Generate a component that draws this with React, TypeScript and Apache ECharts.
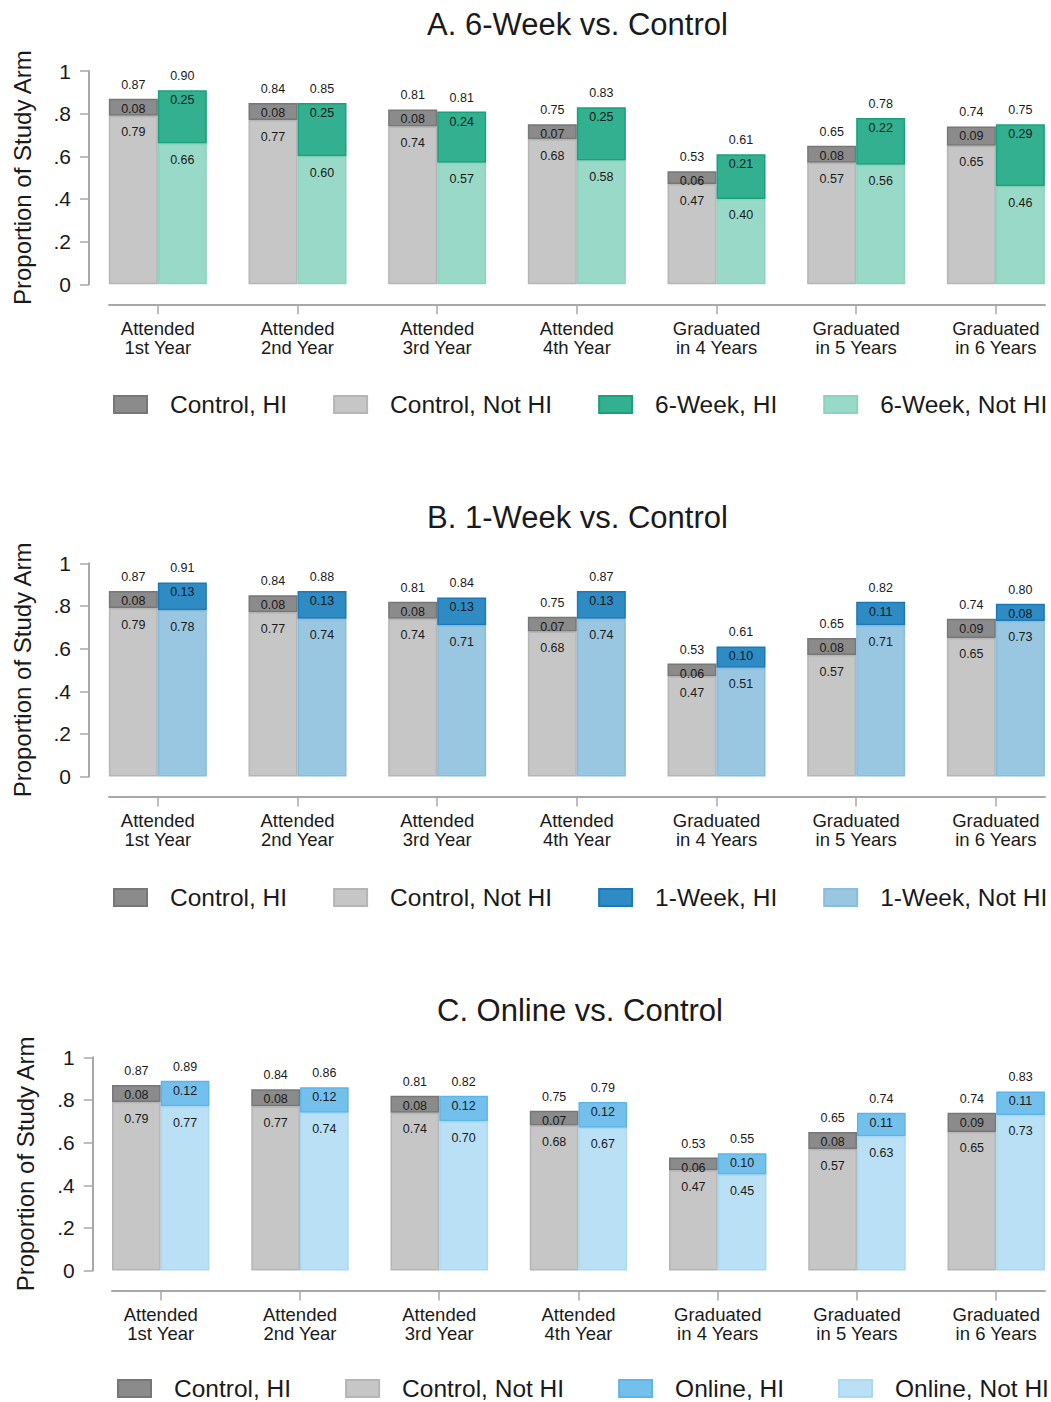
import React, { useEffect, useRef } from "react";
import * as echarts from "echarts";

const categories = [
  "Attended\n1st Year",
  "Attended\n2nd Year",
  "Attended\n3rd Year",
  "Attended\n4th Year",
  "Graduated\nin 4 Years",
  "Graduated\nin 5 Years",
  "Graduated\nin 6 Years",
];

const controlTotal = [0.87, 0.84, 0.81, 0.75, 0.53, 0.65, 0.74];
const controlHI = [0.08, 0.08, 0.08, 0.07, 0.06, 0.08, 0.09];
const controlNotHI = [0.79, 0.77, 0.74, 0.68, 0.47, 0.57, 0.65];

const sixWeekTotal = [0.9, 0.85, 0.81, 0.83, 0.61, 0.78, 0.75];
const sixWeekHI = [0.25, 0.25, 0.24, 0.25, 0.21, 0.22, 0.29];
const sixWeekNotHI = [0.66, 0.6, 0.57, 0.58, 0.4, 0.56, 0.46];

const oneWeekTotal = [0.91, 0.88, 0.84, 0.87, 0.61, 0.82, 0.8];
const oneWeekHI = [0.13, 0.13, 0.13, 0.13, 0.1, 0.11, 0.08];
const oneWeekNotHI = [0.78, 0.74, 0.71, 0.74, 0.51, 0.71, 0.73];

const onlineTotal = [0.89, 0.86, 0.82, 0.79, 0.55, 0.74, 0.83];
const onlineHI = [0.12, 0.12, 0.12, 0.12, 0.1, 0.11, 0.11];
const onlineNotHI = [0.77, 0.74, 0.7, 0.67, 0.45, 0.63, 0.73];

const yMin = 0;
const yMax = 1;
const yStep = 0.2;

const panels = [
  {
    title: "A. 6-Week vs. Control",
    arm: "6-Week",
    total: sixWeekTotal,
    hi: sixWeekHI,
    notHI: sixWeekNotHI,
    hiColor: "#33b08f",
    hiBorder: "#17a27b",
    notColor: "#99d9c7",
    notBorder: "#8bd3bf",
  },
  {
    title: "B. 1-Week vs. Control",
    arm: "1-Week",
    total: oneWeekTotal,
    hi: oneWeekHI,
    notHI: oneWeekNotHI,
    hiColor: "#2e8bc4",
    hiBorder: "#1c79b7",
    notColor: "#99c6e1",
    notBorder: "#88bde0",
  },
  {
    title: "C. Online vs. Control",
    arm: "Online",
    total: onlineTotal,
    hi: onlineHI,
    notHI: onlineNotHI,
    hiColor: "#74c0ec",
    hiBorder: "#5cb5e8",
    notColor: "#b9e0f5",
    notBorder: "#a9d9f3",
  },
];

const layouts = [
  { titleLeft: 427, titleTop: 9, gridTop: 71, gridLeft: 88, band: 139.67, barW: 49, lineLeft: 109, lineRight: 1045, legendLeft: 113, legendTop: 392, itemGap: 46, yOffset: -1 },
  { titleLeft: 427, titleTop: 502, gridTop: 563.3, gridLeft: 88, band: 139.67, barW: 49, lineLeft: 109, lineRight: 1045, legendLeft: 113, legendTop: 885, itemGap: 46, yOffset: -1 },
  { titleLeft: 437, titleTop: 995, gridTop: 1057.3, gridLeft: 91.1, band: 139.25, barW: 48.7, lineLeft: 112, lineRight: 1045, legendLeft: 117, legendTop: 1376, itemGap: 54, yOffset: -1.6 },
];

const FONT = "'Liberation Sans', Arial, Helvetica, sans-serif";
const PLOT_H = 213.3;
const AXIS_GRAY = "#a8a8a8";
const TXT = "#1a1a1a";

const fmt = (v: number) => v.toFixed(2);

function buildOption() {
  const grid: any[] = [];
  const xAxis: any[] = [];
  const yAxis: any[] = [];
  const series: any[] = [];
  const title: any[] = [];
  const legend: any[] = [];

  panels.forEach((p, i) => {
    const L = layouts[i];
    title.push({
      text: p.title,
      left: L.titleLeft,
      top: L.titleTop,
      padding: 0,
      textStyle: { fontFamily: FONT, fontSize: 31, fontWeight: "normal", color: TXT },
    });

    grid.push({
      left: L.gridLeft,
      top: L.gridTop,
      width: L.band * categories.length,
      height: PLOT_H,
      containLabel: false,
      outerBoundsMode: "none",
    });
    grid.push({
      left: L.lineLeft,
      top: L.gridTop,
      width: L.lineRight - L.lineLeft,
      height: PLOT_H,
      containLabel: false,
      outerBoundsMode: "none",
    });

    xAxis.push({
      type: "category",
      gridIndex: 2 * i,
      data: categories,
      position: "bottom",
      offset: 20,
      axisLine: { show: false, onZero: false },
      axisTick: { show: true, alignWithLabel: true, length: 10, lineStyle: { color: AXIS_GRAY, width: 1.5 } },
      axisLabel: { fontFamily: FONT, fontSize: 18.5, lineHeight: 19.5, color: TXT, margin: 14, interval: 0 },
      splitLine: { show: false },
    });
    xAxis.push({
      type: "value",
      gridIndex: 2 * i + 1,
      min: 0,
      max: 1,
      position: "bottom",
      offset: 20,
      axisLine: { show: true, onZero: false, lineStyle: { color: AXIS_GRAY, width: 2 } },
      axisTick: { show: false },
      axisLabel: { show: false },
      splitLine: { show: false },
    });

    yAxis.push({
      type: "value",
      gridIndex: 2 * i,
      min: yMin,
      max: yMax,
      interval: yStep,
      position: "left",
      offset: L.yOffset,
      name: "Proportion of Study Arm",
      nameLocation: "middle",
      nameGap: 55,
      nameTextStyle: { fontFamily: FONT, fontSize: 24, color: TXT },
      axisLine: { show: true, onZero: false, lineStyle: { color: AXIS_GRAY, width: 2 } },
      axisTick: { show: true, length: 9, lineStyle: { color: AXIS_GRAY, width: 1.5 } },
      axisLabel: {
        fontFamily: FONT,
        fontSize: 21,
        color: TXT,
        margin: 18,
        formatter: (v: number) => (v === 0 ? "0" : v === 1 ? "1" : v.toFixed(1).replace(/^0/, "")),
      },
      splitLine: { show: false },
    });
    yAxis.push({ type: "value", gridIndex: 2 * i + 1, show: false, min: 0, max: 1 });

    const common = {
      type: "bar",
      xAxisIndex: 2 * i,
      yAxisIndex: 2 * i,
      barWidth: L.barW,
      barGap: "0%",
      emphasis: { disabled: true },
    };
    const lowLabel = (vals: number[]) => ({
      show: true,
      position: "insideTop",
      distance: 10,
      fontFamily: FONT,
      fontSize: 12.5,
      lineHeight: 13,
      color: TXT,
      formatter: (q: any) => fmt(vals[q.dataIndex]),
    });
    const topLabel = (tot: number[], vals: number[]) => ({
      show: true,
      position: "insideTop",
      distance: 0,
      offset: [0, -30],
      fontFamily: FONT,
      color: TXT,
      formatter: (q: any) => `{t|${fmt(tot[q.dataIndex])}}\n{h|${fmt(vals[q.dataIndex])}}`,
      rich: {
        t: { fontFamily: FONT, fontSize: 12.5, lineHeight: 32, color: TXT },
        h: { fontFamily: FONT, fontSize: 12.5, lineHeight: 16, color: TXT },
      },
    });

    series.push({
      ...common,
      name: "Control, Not HI",
      stack: "c" + i,
      data: controlNotHI,
      itemStyle: { color: "#c6c6c6", borderColor: "#b5b5b5", borderWidth: 1.5 },
      label: lowLabel(controlNotHI),
    });
    series.push({
      ...common,
      name: "Control, HI",
      stack: "c" + i,
      data: controlHI,
      itemStyle: { color: "#8b8b8b", borderColor: "#777777", borderWidth: 1.5 },
      label: topLabel(controlTotal, controlHI),
    });
    series.push({
      ...common,
      name: `${p.arm}, Not HI`,
      stack: "t" + i,
      data: p.notHI,
      itemStyle: { color: p.notColor, borderColor: p.notBorder, borderWidth: 1.5 },
      label: lowLabel(p.notHI),
    });
    series.push({
      ...common,
      name: `${p.arm}, HI`,
      stack: "t" + i,
      data: p.hi,
      itemStyle: { color: p.hiColor, borderColor: p.hiBorder, borderWidth: 1.5 },
      label: topLabel(p.total, p.hi),
    });

    legend.push({
      data: ["Control, HI", "Control, Not HI", `${p.arm}, HI`, `${p.arm}, Not HI`],
      left: L.legendLeft,
      top: L.legendTop,
      orient: "horizontal",
      padding: 0,
      icon: "rect",
      itemWidth: 33,
      itemHeight: 17,
      itemGap: L.itemGap,
      selectedMode: false,
      textStyle: { fontFamily: FONT, fontSize: 24.5, lineHeight: 24, color: TXT, padding: [0, 0, 0, 18] },
    });
  });

  return {
    animation: false,
    backgroundColor: "#ffffff",
    title,
    legend,
    grid,
    xAxis,
    yAxis,
    series,
  };
}

export default function App() {
  const ref = useRef<HTMLDivElement>(null);
  useEffect(() => {
    if (!ref.current) return;
    const chart = echarts.init(ref.current, null, { renderer: "svg" });
    chart.setOption(buildOption() as any);
    return () => chart.dispose();
  }, []);
  return (
    <div
      ref={ref}
      style={{ position: "absolute", left: 0, top: 0, width: 1051, height: 1402, background: "#fff" }}
    />
  );
}
